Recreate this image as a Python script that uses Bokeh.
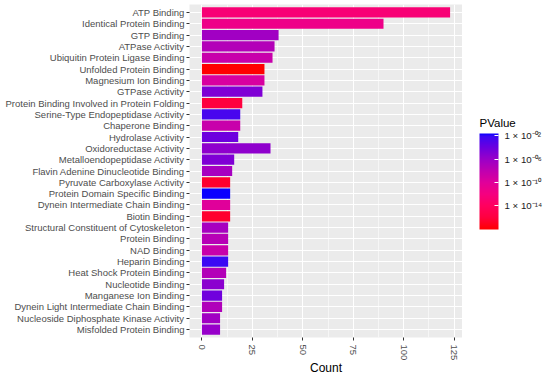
import numpy as np
from bokeh.plotting import figure
from bokeh.layouts import row
from bokeh.models import (ColumnDataSource, FactorRange, Range1d, LogColorMapper, ColorBar,
                          FixedTicker, CustomJSTickFormatter, Label)
from bokeh.embed import file_html
from bokeh.resources import INLINE

terms = ["ATP Binding", "Identical Protein Binding", "GTP Binding", "ATPase Activity",
         "Ubiquitin Protein Ligase Binding", "Unfolded Protein Binding", "Magnesium Ion Binding",
         "GTPase Activity", "Protein Binding Involved in Protein Folding",
         "Serine-Type Endopeptidase Activity", "Chaperone Binding", "Hydrolase Activity",
         "Oxidoreductase Activity", "Metalloendopeptidase Activity",
         "Flavin Adenine Dinucleotide Binding", "Pyruvate Carboxylase Activity",
         "Protein Domain Specific Binding", "Dynein Intermediate Chain Binding", "Biotin Binding",
         "Structural Constituent of Cytoskeleton", "Protein Binding", "NAD Binding",
         "Heparin Binding", "Heat Shock Protein Binding", "Nucleotide Binding",
         "Manganese Ion Binding", "Dynein Light Intermediate Chain Binding",
         "Nucleoside Diphosphate Kinase Activity", "Misfolded Protein Binding"]
counts = [123, 90, 38, 36, 35, 31, 31, 30, 20, 19, 19, 18, 34, 16, 15, 14, 14, 14, 14,
          13, 13, 13, 13, 12, 11, 10, 10, 9, 9]
pvalues = [2.2e-13, 4.6e-12, 4.1e-7, 4.2e-8, 2.9e-9, 7.9e-19, 3.0e-10, 1.3e-5, 9.1e-17,
           2.6e-3, 2.9e-9, 8.4e-5, 2.8e-6, 1.3e-5, 1.9e-7, 2.4e-17, 2.5e-2, 9.7e-11, 2.4e-17,
           1.9e-7, 2.9e-8, 2.9e-9, 8.0e-3, 4.2e-8, 4.0e-6, 5.8e-5, 6.2e-8, 4.1e-7, 1.3e-6]
x_ticks = [0, 25, 50, 75, 100, 125]
x_minor_ticks = [12.5, 37.5, 62.5, 87.5, 112.5]
cbar_ticks = [1e-14, 1e-10, 1e-6, 1e-2]

# gradient stops (low p = red -> high p = blue), as they appear in the picture
stop_pos = [0.0, 0.125, 0.25, 0.37, 0.49, 0.61, 0.733, 0.86, 0.975, 1.0]
stop_col = ["#ff0000", "#ff0040", "#ff0060", "#f50080", "#e0009a", "#c000b0",
            "#9a00c8", "#6a00e0", "#3a08f4", "#0a00ff"]


def hex2rgb(h):
    return np.array([int(h[i:i + 2], 16) for i in (1, 3, 5)], dtype=float)


stops = np.array([hex2rgb(c) for c in stop_col])
palette = []
for t in np.linspace(0, 1, 256):
    rgb = [np.interp(t, stop_pos, stops[:, k]) for k in range(3)]
    palette.append("#%02x%02x%02x" % tuple(int(round(v)) for v in rgb))

mapper = LogColorMapper(palette=palette, low=min(pvalues), high=max(pvalues))
source = ColumnDataSource(dict(term=terms, count=counts, pvalue=pvalues))

FONT = "Liberation Sans"
FH = 333
TOP = 4
xmax = max(counts)
p = figure(frame_width=273, frame_height=FH, output_backend="svg", toolbar_location=None,
           y_range=FactorRange(factors=terms[::-1], range_padding=0.2,
                               range_padding_units="absolute"),
           x_range=Range1d(-0.05 * xmax, 1.05 * xmax),
           x_axis_label="Count",
           min_border_left=189, min_border_top=TOP,
           min_border_bottom=0, min_border_right=0)
p.background_fill_color = "#EBEBEB"
p.border_fill_color = "white"
p.outline_line_color = None

p.hbar(y="term", right="count", left=0, height=0.9, source=source,
       fill_color={"field": "pvalue", "transform": mapper}, line_color=None)

p.xaxis.ticker = FixedTicker(ticks=x_ticks, minor_ticks=x_minor_ticks)
p.xgrid.grid_line_color = "white"
p.xgrid.grid_line_width = 1.1
p.xgrid.minor_grid_line_color = "white"
p.xgrid.minor_grid_line_width = 0.55
p.ygrid.grid_line_color = "white"
p.ygrid.grid_line_width = 1.1

for ax in (p.xaxis, p.yaxis):
    ax.axis_line_color = None
    ax.major_tick_line_color = "#333333"
    ax.major_tick_line_width = 1
    ax.major_tick_in = 0
    ax.major_tick_out = 3
    ax.minor_tick_line_color = None
    ax.major_label_text_color = "#4D4D4D"
    ax.major_label_text_font = FONT
    ax.major_label_text_font_size = "9.5px"
    ax.major_label_standoff = 2

p.xaxis.major_label_standoff = 3
p.xaxis.major_label_orientation = "vertical"
p.xaxis.axis_label_text_font = FONT
p.xaxis.axis_label_text_font_size = "12px"
p.xaxis.axis_label_text_font_style = "normal"
p.xaxis.axis_label_text_color = "black"
p.xaxis.axis_label_standoff = -2

# ---- legend panel (colour bar); its frame lines up with the main frame ----
LW = 82
leg = figure(width=LW, frame_height=FH, output_backend="svg", toolbar_location=None,
             x_range=Range1d(0, LW), y_range=Range1d(0, FH),
             x_axis_location=None, y_axis_location=None,
             min_border=0, min_border_top=TOP, outline_line_color=None)
leg.grid.visible = False
leg.background_fill_color = "white"
leg.border_fill_color = "white"

formatter = CustomJSTickFormatter(code=r"""
const e = Math.round(Math.log10(tick));
const sup = {"0": "\u2070", "1": "\u00B9", "2": "\u00B2", "3": "\u00B3", "4": "\u2074",
             "5": "\u2075", "6": "\u2076", "7": "\u2077", "8": "\u2078", "9": "\u2079",
             "-": "\u207B"};
const s = (e < 0 ? "-" : "") + String(Math.abs(e)).padStart(2, "0");
return "1 \u00D7 10" + s.split("").map(c => sup[c]).join("");
""")

cb = ColorBar(color_mapper=mapper, ticker=FixedTicker(ticks=cbar_ticks), formatter=formatter,
              width=19, height=96,
              major_label_text_font=FONT, major_label_text_font_size="9.7px",
              major_label_text_color="#1A1A1A", major_tick_line_color="white",
              major_tick_in=4, major_tick_out=0, label_standoff=6,
              padding=0, margin=0, location=(17, 108),
              background_fill_color=None, border_line_color=None)
leg.add_layout(cb, "center")
leg.add_layout(Label(x=17, y=215, text="PValue", text_font=FONT, text_font_size="11.5px",
                     text_color="black", text_align="left", text_baseline="middle"))

layout = row(p, leg, spacing=0)
open("out.html", "w").write(file_html(layout, INLINE))
